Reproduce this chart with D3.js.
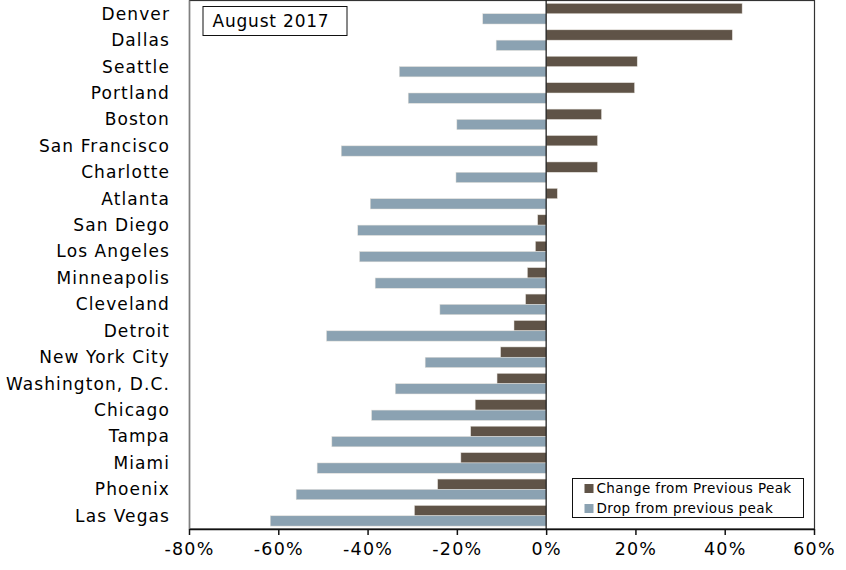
<!DOCTYPE html>
<html>
<head>
<meta charset="utf-8">
<script src="https://cdn.jsdelivr.net/npm/d3@7"></script>
<style>
  body { margin: 0; background: #fff; }
  svg { display: block; font-family: "DejaVu Sans", Verdana, sans-serif; }
</style>
</head>
<body>
<script>
// city names, top to bottom
var cities = ["Denver", "Dallas", "Seattle", "Portland", "Boston", "San Francisco",
  "Charlotte", "Atlanta", "San Diego", "Los Angeles", "Minneapolis", "Cleveland",
  "Detroit", "New York City", "Washington, D.C.", "Chicago", "Tampa", "Miami",
  "Phoenix", "Las Vegas"];

// change from previous peak (%)
var changeFromPeak = [43.9, 41.7, 20.4, 19.8, 12.4, 11.5, 11.5, 2.5, -1.9, -2.4,
  -4.2, -4.6, -7.2, -10.2, -11.0, -15.9, -16.9, -19.1, -24.3, -29.5];

// drop from previous peak (%)
var dropFromPeak = [-14.2, -11.2, -32.9, -30.9, -20.0, -45.9, -20.2, -39.4, -42.2, -41.8,
  -38.3, -23.8, -49.2, -27.1, -33.8, -39.1, -48.0, -51.3, -56.0, -61.8];

var seriesNames = ["Change from Previous Peak", "Drop from previous peak"];
var seriesColors = ["#5f5347", "#8ba2b2"];
var xTicks = [-80, -60, -40, -20, 0, 20, 40, 60];

var width = 846, height = 570;
var plotLeft = 189, plotRight = 814, plotTop = 0.5, plotBottom = 529;

var svg = d3.select("body").append("svg")
    .attr("width", width)
    .attr("height", height);

var x = d3.scaleLinear().domain([-80, 60]).range([plotLeft, plotRight]);
var y = d3.scaleBand().domain(cities).range([plotTop, plotBottom]).paddingInner(0.22).paddingOuter(0.11);
var ySub = d3.scaleBand().domain([0, 1]).range([0, y.bandwidth()]);

// plot frame
svg.append("rect")
    .attr("x", plotLeft + 0.5).attr("y", plotTop)
    .attr("width", plotRight - plotLeft).attr("height", plotBottom - plotTop)
    .attr("fill", "none").attr("stroke", "#333").attr("stroke-width", 1.2);
svg.append("line")
    .attr("x1", plotLeft + 0.5).attr("x2", plotLeft + 0.5)
    .attr("y1", plotTop).attr("y2", plotBottom)
    .attr("stroke", "#808080").attr("stroke-width", 1.5);

// bars for both series
var rows = cities.map(function(c, i){
  return {city: c, vals: [changeFromPeak[i], dropFromPeak[i]]};
});

var groups = svg.selectAll(".row")
    .data(rows)
    .enter().append("g")
    .attr("class", "row")
    .attr("transform", function(d){ return "translate(0," + y(d.city) + ")"; });

groups.selectAll("rect")
    .data(function(d){ return d.vals.map(function(v, k){ return {v: v, k: k}; }); })
    .enter().append("rect")
    .attr("x", function(d){ return Math.min(x(0), x(d.v)); })
    .attr("y", function(d){ return ySub(d.k); })
    .attr("width", function(d){ return Math.abs(x(d.v) - x(0)); })
    .attr("height", ySub.bandwidth())
    .attr("fill", function(d){ return seriesColors[d.k]; })
    .attr("stroke", "#e4e0da")
    .attr("stroke-width", 0.5);

// zero line
svg.append("line")
    .attr("x1", x(0)).attr("x2", x(0))
    .attr("y1", plotTop).attr("y2", plotBottom)
    .attr("stroke", "#111").attr("stroke-width", 1.2);

// city labels
svg.selectAll(".city")
    .data(cities)
    .enter().append("text")
    .attr("class", "city")
    .attr("x", 170)
    .attr("y", function(d){ return y(d) + y.bandwidth() / 2; })
    .attr("dy", "0.35em")
    .attr("text-anchor", "end")
    .attr("font-size", 17)
    .attr("letter-spacing", 1.1)
    .attr("fill", "#000")
    .text(function(d){ return d; });

// x axis
var xAxis = d3.axisBottom(x)
    .tickValues(xTicks)
    .tickSizeInner(6)
    .tickSizeOuter(0)
    .tickPadding(8)
    .tickFormat(function(d){ return (d < 0 ? "-" : "") + Math.abs(d) + "%"; });

var gx = svg.append("g")
    .attr("transform", "translate(0," + plotBottom + ")")
    .call(xAxis);
gx.select(".domain").attr("stroke", "#111").attr("stroke-width", 1.5);
gx.selectAll(".tick line").attr("stroke", "#111").attr("stroke-width", 1.5);
gx.selectAll(".tick text")
    .attr("font-family", "DejaVu Sans, Verdana, sans-serif")
    .attr("font-size", 17.5)
    .attr("letter-spacing", 1.2)
    .attr("fill", "#000");

// date box
svg.append("rect")
    .attr("x", 203).attr("y", 6.5)
    .attr("width", 144).attr("height", 29)
    .attr("fill", "#fff").attr("stroke", "#111").attr("stroke-width", 1);
svg.append("text")
    .attr("x", 271).attr("y", 21)
    .attr("dy", "0.35em")
    .attr("text-anchor", "middle")
    .attr("font-size", 17)
    .attr("letter-spacing", 0.8)
    .text("August 2017");

// legend
var legend = svg.append("g").attr("transform", "translate(572.5,478.5)");
legend.append("rect")
    .attr("width", 231).attr("height", 39)
    .attr("fill", "#fff").attr("stroke", "#111").attr("stroke-width", 1);
var items = legend.selectAll(".item")
    .data(seriesNames)
    .enter().append("g")
    .attr("class", "item")
    .attr("transform", function(d, i){ return "translate(12," + (10 + i * 20) + ")"; });
items.append("rect")
    .attr("y", -4.5)
    .attr("width", 9).attr("height", 9)
    .attr("fill", function(d, i){ return seriesColors[i]; });
items.append("text")
    .attr("x", 12)
    .attr("dy", "0.35em")
    .attr("font-size", 13.5)
    .attr("letter-spacing", 0.4)
    .text(function(d){ return d; });
</script>
</body>
</html>
